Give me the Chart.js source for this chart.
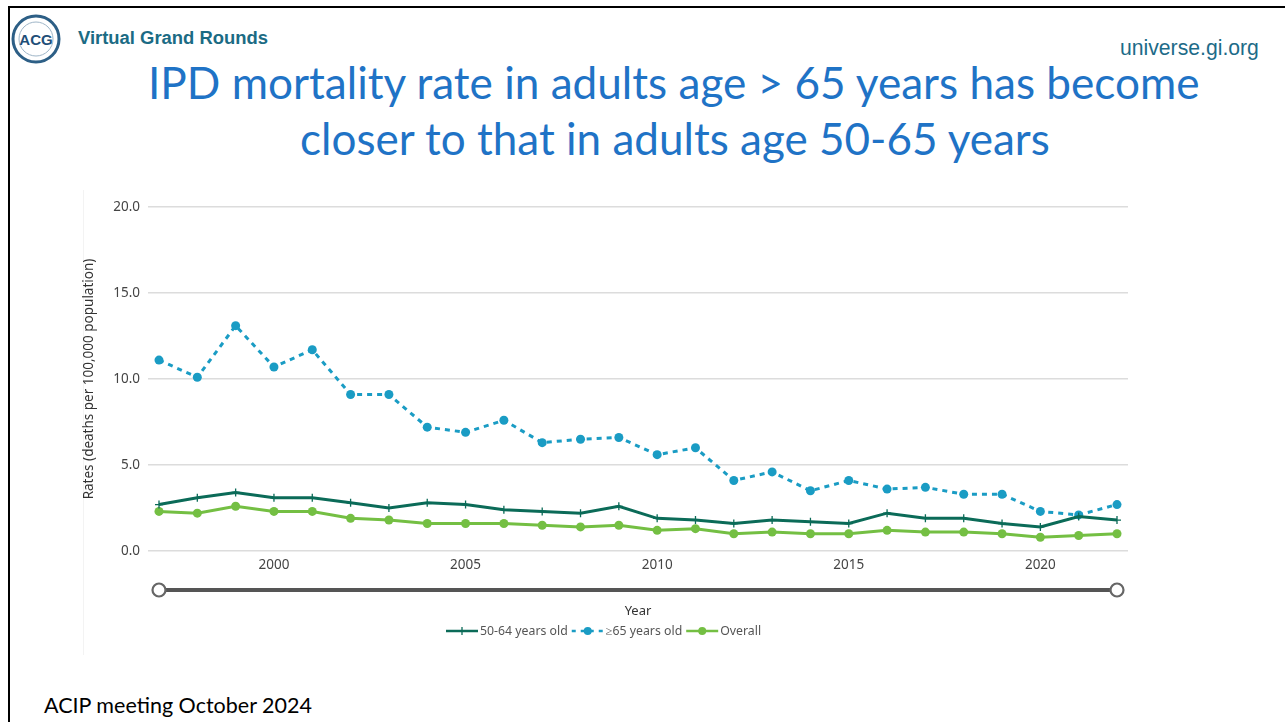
<!DOCTYPE html>
<html>
<head>
<meta charset="utf-8">
<script src="https://cdn.jsdelivr.net/npm/chart.js@4.4.1/dist/chart.umd.min.js"></script>
<style>
  html,body{margin:0;padding:0;background:#fff;}
  body{width:1285px;height:722px;position:relative;overflow:hidden;}
  .t{position:absolute;white-space:nowrap;line-height:1.15;}
  #bt{position:absolute;left:8px;top:6px;width:1277px;height:2px;background:#000;}
  #bl{position:absolute;left:8px;top:6px;width:2px;height:716px;background:#000;}
  #panel{position:absolute;left:83px;top:190px;width:1px;height:465px;background:#f3f3f3;}
  #cv{position:absolute;left:80px;top:190px;}
</style>
</head>
<body>
<div id="bt"></div><div id="bl"></div>
<svg style="position:absolute;left:10px;top:13px" width="52" height="52" viewBox="0 0 52 52">
  <circle cx="26" cy="26" r="23" fill="#fff" stroke="#2d5f86" stroke-width="3"/>
  <circle cx="26" cy="26" r="17" fill="#fff" stroke="#9fb6c8" stroke-width="1"/>
  <text x="26" y="31.5" text-anchor="middle" font-family="Liberation Sans, Arial" font-weight="bold" font-size="15" fill="#1f4f78">ACG</text>
</svg>
<div class="t" data-x="78" data-cy="38" data-w="190" style="font-family:'Liberation Sans',Arial;font-weight:bold;font-size:16px;color:#1b6b84;">Virtual Grand Rounds</div>
<div class="t" data-x="1120" data-cy="48" data-w="139" style="font-family:'Liberation Sans',Arial;font-size:18px;color:#1d6b88;">universe.gi.org</div>
<div class="t" data-x="148" data-cy="82" data-w="1052" style="font-family:Lato,'Open Sans';font-size:40px;color:#1f73c6;">IPD mortality rate in adults age &gt; 65 years has become</div>
<div class="t" data-x="300" data-cy="138" data-w="750" style="font-family:Lato,'Open Sans';font-size:40px;color:#1f73c6;">closer to that in adults age 50-65 years</div>
<div class="t" data-x="44" data-cy="705" data-w="268" style="font-family:Lato,'Open Sans';font-size:19px;color:#000;">ACIP meeting October 2024</div>
<div id="panel"></div>
<canvas id="cv" width="1080" height="460"></canvas>
<script>
// ---- data ----
const years = [1997,1998,1999,2000,2001,2002,2003,2004,2005,2006,2007,2008,2009,2010,2011,2012,2013,2014,2015,2016,2017,2018,2019,2020,2021,2022];
const age50to64 = [2.7,3.1,3.4,3.1,3.1,2.8,2.5,2.8,2.7,2.4,2.3,2.2,2.6,1.9,1.8,1.6,1.8,1.7,1.6,2.2,1.9,1.9,1.6,1.4,2.0,1.8];
const age65plus = [11.1,10.1,13.1,10.7,11.7,9.1,9.1,7.2,6.9,7.6,6.3,6.5,6.6,5.6,6.0,4.1,4.6,3.5,4.1,3.6,3.7,3.3,3.3,2.3,2.1,2.7];
const overall   = [2.3,2.2,2.6,2.3,2.3,1.9,1.8,1.6,1.6,1.6,1.5,1.4,1.5,1.2,1.3,1.0,1.1,1.0,1.0,1.2,1.1,1.1,1.0,0.8,0.9,1.0];
const xTicks = [2000,2005,2010,2015,2020];
const yTicks = [0,5,10,15,20];
const seriesNames = ['50-64 years old','\u226565 years old','Overall'];
const xTitle = 'Year';
const yTitle = 'Rates (deaths per 100,000 population)';

// fit text elements
document.querySelectorAll('[data-w]').forEach(el=>{
  const target=+el.dataset.w;
  const fs=parseFloat(getComputedStyle(el).fontSize);
  let w=el.getBoundingClientRect().width;
  el.style.fontSize=(fs*target/w)+'px';
  const r=el.getBoundingClientRect();
  el.style.left=el.dataset.x+'px';
  el.style.top=(+el.dataset.cy - r.height/2)+'px';
});

const C_DARK='#0b6b58', C_BLUE='#1a9cc4', C_LIGHT='#74bf43';
const pts = arr => arr.map((v,i)=>({x:years[i],y:v}));

const extras = {
  id:'extras',
  afterDraw(chart){
    const ctx=chart.ctx, xs=chart.scales.x, ca=chart.chartArea;
    const x1=xs.getPixelForValue(years[0]), x2=xs.getPixelForValue(years[years.length-1]);
    const ys=ca.bottom+39;
    ctx.save();
    // slider
    ctx.strokeStyle='#555'; ctx.lineWidth=4;
    ctx.beginPath(); ctx.moveTo(x1,ys); ctx.lineTo(x2,ys); ctx.stroke();
    [x1,x2].forEach(x=>{
      ctx.beginPath(); ctx.arc(x,ys,6.5,0,Math.PI*2);
      ctx.fillStyle='#fff'; ctx.fill(); ctx.lineWidth=2.2; ctx.strokeStyle='#666'; ctx.stroke();
    });
    // x title
    ctx.fillStyle='#333'; ctx.font='13px "Noto Sans"'; ctx.textAlign='center'; ctx.textBaseline='middle';
    ctx.fillText(xTitle,(ca.left+ca.right)/2,ca.bottom+60);
    // legend
    const ly=ca.bottom+80;
    ctx.font='12.3px "Noto Sans"'; ctx.textAlign='left';
    const cols=[C_DARK,C_BLUE,C_LIGHT];
    let x=366;
    seriesNames.forEach((name,i)=>{
      ctx.strokeStyle=cols[i]; ctx.fillStyle=cols[i]; ctx.lineWidth=2.5;
      ctx.setLineDash(i===1?[4,5]:[]);
      ctx.beginPath(); ctx.moveTo(x,ly); ctx.lineTo(x+32,ly); ctx.stroke();
      ctx.setLineDash([]);
      if(i===0){ ctx.lineWidth=1.3; ctx.beginPath(); ctx.moveTo(x+16,ly-4); ctx.lineTo(x+16,ly+4); ctx.stroke(); }
      else { ctx.beginPath(); ctx.arc(x+16,ly,4,0,Math.PI*2); ctx.fill(); }
      ctx.fillStyle='#555';
      ctx.fillText(name,x+34,ly);
      x+=34+ctx.measureText(name).width+4;
    });
    ctx.restore();
  }
};

Chart.defaults.font.family='"Noto Sans"';
new Chart(document.getElementById('cv'),{
  type:'line',
  data:{datasets:[
    {label:seriesNames[0],data:pts(age50to64),borderColor:C_DARK,backgroundColor:C_DARK,borderWidth:3,
     pointStyle:'cross',pointRadius:4,pointBorderWidth:1.3,pointBorderColor:C_DARK,tension:0},
    {label:seriesNames[1],data:pts(age65plus),borderColor:C_BLUE,backgroundColor:C_BLUE,borderWidth:3,borderDash:[5,5],
     pointStyle:'circle',pointRadius:4.5,pointBorderWidth:0,tension:0},
    {label:seriesNames[2],data:pts(overall),borderColor:C_LIGHT,backgroundColor:C_LIGHT,borderWidth:3,
     pointStyle:'circle',pointRadius:4.5,pointBorderWidth:0,tension:0}
  ]},
  options:{
    responsive:false,animation:false,
    layout:{padding:{left:0,right:32,top:17,bottom:0}},
    plugins:{legend:{display:false},tooltip:{enabled:false}},
    scales:{
      x:{type:'linear',min:1996.713,max:2022.287,
         afterBuildTicks:s=>{s.ticks=xTicks.map(v=>({value:v}));},
         afterFit:s=>{s.height=99;},
         grid:{display:false,drawTicks:false},border:{display:false},
         ticks:{callback:v=>String(v),color:'#444',font:{size:13.5},padding:6,maxRotation:0}},
      y:{min:0,max:20,
         afterBuildTicks:s=>{s.ticks=yTicks.map(v=>({value:v}));},
         afterFit:s=>{s.width=68;},
         grid:{color:'#dcdcdc',lineWidth:1.5,drawTicks:false},border:{display:false},
         ticks:{callback:v=>v.toFixed(1),color:'#444',font:{size:13.5},padding:8},
         title:{display:true,text:yTitle,color:'#333',font:{size:13.5},padding:{top:1,bottom:0}}}
    }
  },
  plugins:[extras]
});
</script>
</body>
</html>
